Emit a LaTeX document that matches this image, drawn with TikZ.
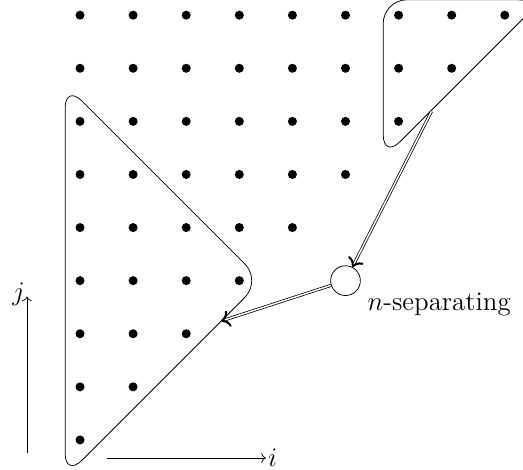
\documentclass[tikz,border=0pt]{standalone}
\usetikzlibrary{arrows.meta}
\begin{document}
\begin{tikzpicture}[
  dot/.style={circle,fill=black,inner sep=0pt,minimum size=0.17cm},
  region/.style={draw,rounded corners=0.45cm},
  link/.style={double,double distance=0.8pt,-{To[line width=1.1pt,length=1.6mm,width=3.2mm]}},
  lbl/.style={font=\Large}
]
\clip (-1.507,-0.565) rectangle (8.343,8.286);
\foreach \j in {0,...,8}{
  \foreach \i in {0,...,\j}{
    \node[dot] (d\i-\j) at (\i,\j) {};
  }
}
\draw[region] (-0.28,-0.70) -- (-0.28,6.70) -- (3.42,3) -- cycle;
\draw[region] (5.71,5.30) -- (5.71,8.29) -- (8.70,8.29) -- cycle;
\coordinate (p1) at (6.62,6.19);
\coordinate (p2) at (2.66,2.24);
\node[draw,circle,minimum size=0.56cm,inner sep=0pt] (c) at (5,3) {};
\draw[link] (p1) -- (c);
\draw[link] (c) -- (p2);
\node[lbl,anchor=north west,xshift=0.09cm,yshift=0.09cm] (lab) at (c.south east) {$n$-separating};
\coordinate (va) at (-1,-0.25);
\coordinate (vb) at (-1,2.7);
\draw[->] (va) -- (vb) node[lbl,left,inner sep=1pt,yshift=0.05cm] (jl) {$j$};
\coordinate (ha) at (0.5,-0.34);
\coordinate (hb) at (3.5,-0.34);
\draw[->] (ha) -- (hb) node[lbl,right,inner sep=1pt] (il) {$i$};
\end{tikzpicture}
\end{document}
